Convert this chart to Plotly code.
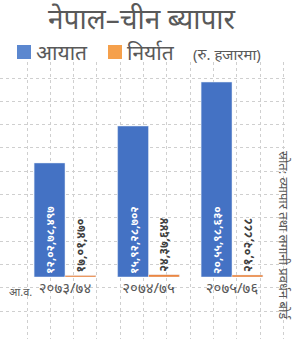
import plotly.graph_objects as go

W, H = 300, 339

categories = ["२०७३/७४", "२०७४/७५", "२०७५/७६"]
imports_val = [120278497, 159228702, 205598630]
exports_val = [1701470, 2437644, 2102888]
imports_lbl = ["१२,०२,७८,४९७", "१५,९२,२८,७०२", "२०,५५,९८,६३०"]
exports_lbl = ["१७,०१,४७०", "२४,३७,६४४", "२१,०२,८८८"]
series_names = ["आयात", "निर्यात"]

title_text = "नेपाल–चीन ब्यापार"
unit_text = "(रु. हजारमा)"
fy_text = "आ.व."
source_text = "स्रोत: व्यापार तथा लगानी प्रवर्धन बोर्ड"

BLUE = "#4472C4"
ORANGE = "#ED7D31"
GREY = "#595959"
FONT = "Noto Sans, Noto Sans Devanagari, sans-serif"

fig = go.Figure()

# dummy trace to make the background grid subplot render
fig.add_trace(go.Scatter(x=[None], y=[None], xaxis="x", yaxis="y",
                         showlegend=False, hoverinfo="skip"))

fig.add_trace(go.Bar(
    x=categories, y=imports_val, name=series_names[0], marker_color=BLUE,
    text=imports_lbl, textposition="inside", insidetextanchor="start",
    constraintext="none",
    textangle=-90, textfont=dict(color="white", size=11.5, family=FONT, weight="bold"),
    xaxis="x2", yaxis="y2", cliponaxis=False, showlegend=False,
))
fig.add_trace(go.Bar(
    x=categories, y=exports_val, name=series_names[1], marker_color=ORANGE,
    text=exports_lbl, textposition="outside", constraintext="none",
    textangle=-90, textfont=dict(color="#404040", size=12, family=FONT, weight="bold"),
    xaxis="x2", yaxis="y2", cliponaxis=False, showlegend=False,
))

gx = [27 + 23.3 * i for i in range(12)]
gy = [78 + 23.3 * i for i in range(11)]

def px_x(v):
    return v / W

def px_y(v):
    return 1 - v / H

shapes = [
    dict(type="rect", xref="paper", yref="paper", x0=px_x(17), x1=px_x(31),
         y0=px_y(45), y1=px_y(59), fillcolor="#5B87CF", line=dict(width=0)),
    dict(type="rect", xref="paper", yref="paper", x0=px_x(108), x1=px_x(122),
         y0=px_y(45), y1=px_y(59), fillcolor="#F5A04B", line=dict(width=0)),
]

fig.update_layout(
    width=W, height=H,
    margin=dict(l=0, r=0, t=0, b=0),
    paper_bgcolor="white", plot_bgcolor="rgba(0,0,0,0)",
    barmode="group", bargap=0.26, bargroupgap=0,
    font=dict(family=FONT, color=GREY),
    showlegend=False,
    shapes=shapes,
    xaxis=dict(domain=[0, 285 / W], range=[0, 285], tickvals=gx, showticklabels=False,
               showgrid=True, gridcolor="#cfcfcf", griddash="dot", gridwidth=1,
               zeroline=False, showline=False, fixedrange=True),
    yaxis=dict(domain=[0, (H - 62) / H], range=[H, 62], tickvals=gy, showticklabels=False,
               showgrid=True, gridcolor="#cfcfcf", griddash="dot", gridwidth=1,
               zeroline=False, showline=False, fixedrange=True),
    xaxis2=dict(domain=[23.25 / W, 273.75 / W], anchor="y2", showgrid=False,
                showline=False, zeroline=False, ticks="",
                tickfont=dict(size=15, color=GREY, family=FONT)),
    yaxis2=dict(domain=[(H - 277) / H, (H - 58.9) / H], anchor="x2", range=[0, 230000000],
                showgrid=False, showticklabels=False, zeroline=False, showline=False),
    annotations=[
        dict(text=title_text, x=px_x(142), y=px_y(18), xref="paper", yref="paper",
             showarrow=False, font=dict(size=28, color=GREY, family=FONT),
             xanchor="center", yanchor="middle"),
        dict(text=series_names[0], x=px_x(34), y=px_y(52), xref="paper", yref="paper",
             showarrow=False, font=dict(size=21, color=GREY, family=FONT),
             xanchor="left", yanchor="middle"),
        dict(text=series_names[1], x=px_x(125), y=px_y(52), xref="paper", yref="paper",
             showarrow=False, font=dict(size=21, color=GREY, family=FONT),
             xanchor="left", yanchor="middle"),
        dict(text=unit_text, x=px_x(191), y=px_y(54), xref="paper", yref="paper",
             showarrow=False, font=dict(size=15, color=GREY, family=FONT),
             xanchor="left", yanchor="middle"),
        dict(text=fy_text, x=px_x(20), y=px_y(291), xref="paper", yref="paper",
             showarrow=False, font=dict(size=11, color=GREY, family=FONT),
             xanchor="center", yanchor="middle"),
        dict(text=source_text, x=px_x(284), y=px_y(235), xref="paper", yref="paper",
             showarrow=False, textangle=90, font=dict(size=13, color=GREY, family=FONT),
             xanchor="center", yanchor="middle"),
    ],
)

fig.write_html("out.html")
